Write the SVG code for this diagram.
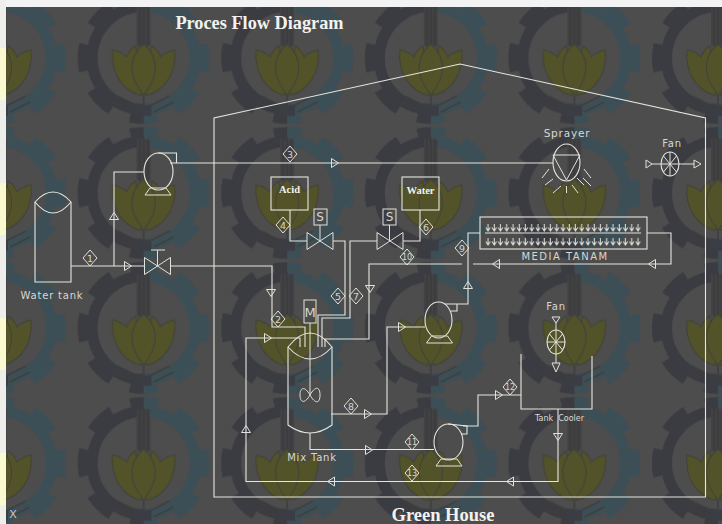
<svg xmlns="http://www.w3.org/2000/svg" xmlns:xlink="http://www.w3.org/1999/xlink" width="722" height="524" viewBox="0 0 722 524">
<style>
.l{fill:none;stroke:#e6e6e0;stroke-width:1.1}
.t{fill:none;stroke:#e2e2da;stroke-width:1}
.cad{font-family:"DejaVu Sans",sans-serif;font-size:10px;fill:#d8d8d0;text-anchor:middle;letter-spacing:.8px}
.n{font-family:"DejaVu Sans",sans-serif;font-size:9.5px;fill:#d8d8d0;text-anchor:middle}
.b{font-family:"Liberation Serif",serif;font-weight:bold;fill:#f2f2ee;text-anchor:middle}
</style>
<defs>
<clipPath id="rh"><rect x="0" y="-70" width="72" height="140"/></clipPath>
<g id="gear"><circle r="51.500" fill="none" stroke-width="11"/><circle r="60" fill="none" stroke-width="12" stroke-dasharray="27 20.100" stroke-dashoffset="13.500"/></g>
<pattern id="logo" width="143.600" height="135" patternUnits="userSpaceOnUse" patternTransform="translate(71.800 125.500)">
<g transform="translate(71.800 67.500)">
<use xlink:href="#gear" stroke="#3a3a42"/>
<g clip-path="url(#rh)"><use xlink:href="#gear" stroke="#3e5056"/></g>
<rect x="-7" y="-54" width="14" height="42" fill="#424245"/>
<path d="M-4-54V-12M0-56V-12M4-54V-12" stroke="#363636" stroke-width="1" fill="none"/>
<g fill="#53522c" stroke="#404035" stroke-width="1">
<path d="M-4 37C-22 32-33 14-31-8-25-7-20-4-17-1-15-6-12-10-8-12L-2 37ZM4 37C22 32 33 14 31-8 25-7 20-4 17-1 15-6 12-10 8-12L2 37Z"/>
<path d="M0-14C14-2 17 16 0 37-17 16-14-2 0-14Z"/>
</g>
<path d="M0 37V48M-26 38L-6 48M26 38L6 48M-30 44L-10 54M30 44L10 54" stroke="#3d3d3d" stroke-width="1.500" fill="none"/>
<rect x="-8" y="47" width="16" height="11" fill="#3a3e44"/>
</g>
</pattern>
<filter id="soft" x="0" y="0" width="1" height="1"><feGaussianBlur stdDeviation=".7"/></filter>
<pattern id="seed" width="6.250" height="8" patternUnits="userSpaceOnUse" patternTransform="translate(485 224)">
<path d="M3 0V7M.8 3.500L3 7 5.200 3.500" fill="none" stroke="#e2e2da" stroke-width="1"/>
</pattern>
<path id="ar" class="t" d="M-3.500-4.500L3.500 0-3.500 4.500Z"/>
<path id="d" class="t" d="M0-8L7 0 0 8-7 0Z"/>
<g id="valve"><path class="t" d="M-13-8.500V8.500L13-8.500V8.500Z"/></g>
<g id="base"><path class="t" d="M-13 0H13L8-7H-8Z"/></g>
</defs>

<g id="background">
<rect width="722" height="524" fill="#4d4d4d"/>
<rect width="722" height="524" fill="url(#logo)" filter="url(#soft)"/>
<rect x="0" y="0" width="722" height="7" fill="#f3f3f3"/>
<rect x="0" y="0" width="6" height="524" fill="#eeeeea"/>
<path d="M0 48H6V100H0ZM0 183H6V235H0ZM0 318H6V370H0ZM0 453H6V505H0Z" fill="#fbf9cf"/>
</g>

<g id="house"><path class="l" d="M214 497V118L460 64 705.500 118V497Z"/></g>

<text class="b" x="259.500" y="28.500" font-size="18.300">Proces Flow Diagram</text>
<text class="b" x="443" y="521" font-size="18.500">Green House</text>
<text x="13" y="518" font-family="DejaVu Sans,sans-serif" font-size="11" fill="#c8c8c8" text-anchor="middle">X</text>

<g id="connectors">
<path class="l" d="M71 266H145M170 266H272V327H305V347"/>
<path class="l" d="M114 266V172H144"/>
<path class="l" d="M170 163H553"/>
<path class="l" d="M290 210V241H307M333 241H345V315H318V347"/>
<path class="l" d="M420 210V241H403M377 241H350V318H322V347"/>
<path class="l" d="M462 264H369V339H325V347M473 264H671V233H647"/>
<path class="l" d="M480 233H468V304H445"/>
<path class="l" d="M425 327H387V414H331"/>
<path class="l" d="M310 433V449.500H434"/>
<path class="l" d="M463 426H478V395H521"/>
<path class="l" d="M558 409V481.500H246V338H300V347"/>
<g id="arrows">
<use xlink:href="#ar" transform="translate(128 266)"/>
<use xlink:href="#ar" transform="translate(114 216) rotate(-90)"/>
<use xlink:href="#ar" transform="translate(335 163)"/>
<use xlink:href="#ar" transform="translate(271 293) rotate(90)"/>
<use xlink:href="#ar" transform="translate(370 289) rotate(90)"/>
<use xlink:href="#ar" transform="translate(468 285) rotate(-90)"/>
<use xlink:href="#ar" transform="translate(496 264) rotate(180)"/>
<use xlink:href="#ar" transform="translate(652 264) rotate(180)"/>
<use xlink:href="#ar" transform="translate(402 327)"/>
<use xlink:href="#ar" transform="translate(368 414)"/>
<use xlink:href="#ar" transform="translate(369 450)"/>
<use xlink:href="#ar" transform="translate(268 338)"/>
<use xlink:href="#ar" transform="translate(246 429) rotate(-90)"/>
<use xlink:href="#ar" transform="translate(331 481.500) rotate(180)"/>
<use xlink:href="#ar" transform="translate(510 481.500) rotate(180)"/>
<use xlink:href="#ar" transform="translate(558 437) rotate(90)"/>
<use xlink:href="#ar" transform="translate(499 395)"/>
</g>
</g>

<g id="water-tank">
<path class="l" d="M35 202V282H71V202"/>
<path class="l" d="M35 202Q53 182 71 202 53 224 35 202Z"/>
<text class="cad" x="52" y="299" font-size="10.500">Water tank</text>
</g>
<g id="pump-1">
<ellipse class="l" cx="158.500" cy="171.500" rx="14.500" ry="18.500"/>
<path class="l" d="M158 153H176.500V163"/>
<use xlink:href="#base" transform="translate(158 195)"/>
</g>
<g id="valve-1">
<use xlink:href="#valve" transform="translate(157.500 266)"/>
<path class="t" d="M157.500 266V250M151 250H165"/>
</g>
<g id="acid"><rect class="l" x="271" y="177" width="37" height="33"/><text class="b" x="289.500" y="193" font-size="10.500">Acid</text></g>
<g id="water"><rect class="l" x="402" y="177" width="37" height="33"/><text class="b" x="420.500" y="194" font-size="10.500">Water</text></g>
<g id="valve-acid">
<use xlink:href="#valve" transform="translate(320 241)"/>
<rect class="t" x="314" y="209" width="13" height="16"/>
<path class="t" d="M320 225V241"/>
<text class="n" x="320" y="221" style="font-size:12px">S</text>
</g>
<g id="valve-water">
<use xlink:href="#valve" transform="translate(390 241)"/>
<rect class="t" x="383" y="209" width="13" height="16"/>
<path class="t" d="M389.500 225V241"/>
<text class="n" x="389.500" y="221" style="font-size:12px">S</text>
</g>
<g id="sprayer">
<ellipse class="l" cx="566.500" cy="162.500" rx="13.500" ry="18.500"/>
<path class="t" d="M553 155H580L566.500 180ZM542 178L549 169M545 185L553 179M553 193L561 186M566.500 193V186M578 193L572 185M584 185L577 178M591 186L583 178M591 178L584 169"/>
<text class="cad" x="567" y="137" style="font-size:10.500px">Sprayer</text>
</g>
<g id="fan-1">
<ellipse class="l" cx="670" cy="164" rx="9" ry="12"/>
<path class="t" d="M661 164H652M679 164H694M661 164H679M670 152V176M663.500 156L676.500 172M663.500 172L676.500 156"/>
<path class="t" d="M646 160V168L652 164ZM694 160V168L701 164Z"/>
<text class="cad" x="672" y="147">Fan</text>
</g>
<g id="media-tanam">
<rect class="l" x="480" y="217" width="167" height="32"/>
<path class="t" d="M485 233H641"/>
<rect x="485" y="224" width="156" height="8" fill="url(#seed)"/>
<rect x="485" y="240" width="156" height="8" fill="url(#seed)" transform="translate(0 -2)"/>
<text class="cad" x="565" y="260" style="letter-spacing:1.500px">MEDIA TANAM</text>
</g>
<g id="pump-2">
<ellipse class="l" cx="438.500" cy="320" rx="13.500" ry="18"/>
<path class="l" d="M457 304V311H451"/>
<use xlink:href="#base" transform="translate(439.500 343)"/>
</g>
<g id="mix-tank">
<path class="l" d="M288 347V425Q310 441 332 425V347"/>
<path class="l" d="M288 347Q310 319 332 347 310 371 288 347Z"/>
<rect class="t" x="304" y="300" width="12" height="23"/>
<text class="n" x="310" y="317" style="font-size:13px">M</text>
<path class="t" d="M310 323V394M310 395C305 386 300 387 300 395S305 404 310 395 320 386 320 395 315 404 310 395Z"/>
<text class="cad" x="312" y="461">Mix Tank</text>
</g>
<g id="pump-3">
<ellipse class="l" cx="448.500" cy="442" rx="14.500" ry="18"/>
<path class="l" d="M448 424L467 426V434H461"/>
<use xlink:href="#base" transform="translate(449 466)"/>
</g>
<g id="tank-cooler">
<path class="l" d="M521 354V409H592V356"/>
<text x="559.500" y="421" font-family="DejaVu Sans,sans-serif" font-size="8px" fill="#dcdcd4" text-anchor="middle" xml:space="preserve">Tank  Cooler</text>
</g>
<g id="fan-2">
<ellipse class="l" cx="556" cy="342" rx="9" ry="12"/>
<path class="t" d="M556 323V330M556 354V363M547 342H565M556 330V354M549.500 334L562.500 350M549.500 350L562.500 334"/>
<path class="t" d="M552 317H560L556 323ZM552 363H560L556 372Z"/>
<text class="cad" x="556" y="310">Fan</text>
</g>
<g id="labels">
<g transform="translate(90 258)"><use xlink:href="#d"/><text class="n" y="3.500">1</text></g>
<g transform="translate(278 319)"><use xlink:href="#d"/><text class="n" y="3.500">2</text></g>
<g transform="translate(290 154)"><use xlink:href="#d"/><text class="n" y="3.500">3</text></g>
<g transform="translate(283 225)"><use xlink:href="#d"/><text class="n" y="3.500">4</text></g>
<g transform="translate(338 296)"><use xlink:href="#d"/><text class="n" y="3.500">5</text></g>
<g transform="translate(426 227)"><use xlink:href="#d"/><text class="n" y="3.500">6</text></g>
<g transform="translate(356 296)"><use xlink:href="#d"/><text class="n" y="3.500">7</text></g>
<g transform="translate(351 406)"><use xlink:href="#d"/><text class="n" y="3.500">8</text></g>
<g transform="translate(462 248)"><use xlink:href="#d"/><text class="n" y="3.500">9</text></g>
<g transform="translate(407 257)"><use xlink:href="#d"/><text class="n" y="3" style="font-size:8px">10</text></g>
<g transform="translate(412 442)"><use xlink:href="#d"/><text class="n" y="3" style="font-size:8px">11</text></g>
<g transform="translate(510 387)"><use xlink:href="#d"/><text class="n" y="3" style="font-size:8px">12</text></g>
<g transform="translate(412 473)"><use xlink:href="#d"/><text class="n" y="3" style="font-size:8px">13</text></g>
</g>
</svg>
